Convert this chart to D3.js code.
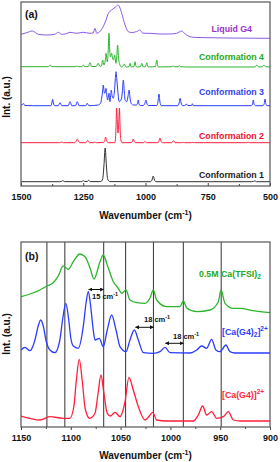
<!DOCTYPE html>
<html>
<head>
<meta charset="utf-8">
<script src="https://cdn.jsdelivr.net/npm/d3@7"></script>
<style>
  body { margin: 0; background: #fff; }
  text { font-family: "Liberation Sans", Arial, sans-serif; font-weight: bold; }
</style>
</head>
<body>
<svg id="chart" width="280" height="462"></svg>
<script>
// ---- panel (a) data: [wavenumber, intensity above own baseline] ----
var ticksA = [1500, 1250, 1000, 750, 500];
var minorA = [1375, 1125, 875, 625];

var conf1 = [[1500,0.3],[1345,0.3],[1338,0.5],[1332,1.4],[1326,0.4],[1262,0.3],[1256,0.5],[1250,1.4],[1244,0.5],
  [1234,0.5],[1228,1.8],[1222,0.4],[1180,0.4],[1172,3],[1167,16],[1162,34],[1157,16],[1152,3],[1144,0.4],
  [980,0.3],[974,2],[969,6],[964,2],[958,0.3],[575,0.3],[566,0.6],[560,1.2],[554,0.3],[500,0.3]];

var conf2 = [[1500,0.3],[1345,0.3],[1337,1],[1330,0.3],[1284,0.3],[1278,2],[1274,4],[1270,2],[1264,0.3],
  [1240,0.3],[1232,2.6],[1225,0.3],[1208,0.3],[1203,1],[1198,0.3],[1170,0.5],[1164,2.5],[1160,6],[1156,2.5],
  [1150,0.3],[1124,0.3],[1121,3],[1118.5,15],[1116,35],[1113,20],[1110.5,10],[1107.5,20],[1104.5,35],[1102,15],
  [1099,3],[1094,0.3],[1058,0.3],[1053,1.5],[1049,4],[1045,1.5],[1040,0.3],[1008,0.3],[1002,1.6],[996,0.3],
  [950,0.3],[946,2],[942,5],[938,2],[932,0.3],[895,0.3],[888,2.3],[881,0.3],[855,0.3],[849,0.7],[843,0.3],
  [815,0.3],[809,0.7],[803,0.3],[595,0.3],[588,0.8],[581,0.3],[500,0.3]];

var conf3 = [[1500,1],[1494,1.5],[1490,2.7],[1485,0.5],[1455,0.3],[1380,0.3],[1376,3],[1373,6.7],[1370,3],
  [1365,0.3],[1350,0.3],[1343,3.3],[1336,0.3],[1310,0.3],[1303,4.3],[1296,0.3],[1281,0.3],[1274,4.3],[1267,0.3],
  [1240,0.3],[1234,2.7],[1228,0.3],[1190,1],[1180,3],[1176,8],[1172.5,14],[1169.5,21],[1166,14],[1163,12.7],
  [1160.5,16],[1158.6,17.7],[1155,10],[1152,6],[1149,10],[1146.6,12.7],[1144.5,7],[1142.6,4.3],[1140,10],
  [1137.5,16],[1134,10],[1129.5,7.7],[1125,14],[1121.5,26],[1118.5,34.3],[1115,26],[1111.6,16],[1108,7],
  [1105,4.3],[1098.4,6],[1093,14],[1089,26],[1085,14],[1082,6],[1075.5,4.3],[1070,10],[1066,16],[1062,8],
  [1058,2.7],[1049,1],[1036,1],[1032,3],[1029,6],[1026,2],[1021,0.5],[1008,0.5],[1003,2.5],[998,6],[994,2],
  [988,0.5],[955,0.5],[950,4],[946,12],[942,4],[937,0.3],[870,0.3],[865,3],[861,7.7],[857,3],[850,0.3],
  [838,1],[835,2],[830,0.5],[815,0.5],[812,2.3],[808,0.3],[575,0.3],[570,2],[567,6],[564,2],[558,0.3],
  [528,0.3],[523,2.5],[520,7],[517,2.5],[512,0.3],[500,0.3]];

var conf4 = [[1500,0.3],[1390,0.3],[1383,2],[1376,0.3],[1282,0.3],[1276,1],[1270,0.3],[1256,0.3],[1250,2],
  [1244,0.3],[1230,0.5],[1223,4.3],[1216,0.5],[1198,0.5],[1190,3.7],[1183,0.5],[1177,1],[1172,7],[1167,2],
  [1162,6],[1158.6,13.7],[1155,7],[1153,5],[1150,15],[1146.6,33.7],[1143.5,16],[1141,10],[1138.5,12],
  [1136,13.7],[1132.5,9],[1129,7],[1126.5,9],[1124,12],[1121,7],[1118.5,3.7],[1115.5,10],[1112,22],
  [1108.5,10],[1105,3.7],[1096,0],[1090,1],[1085,3],[1080,0.5],[1075,0],[1066,0.5],[1062,3.7],[1058,0.3],
  [1055,0],[1046,0.5],[1042,5.3],[1038,0.5],[1033,0],[1020,0.5],[1015,3.7],[1010,0.3],[1006,0],[1000,0.5],
  [995,4.3],[990,0.3],[985,0],[960,0.5],[955,7],[950,0.5],[946,0],[893,0.3],[888,1],[883,0.3],[869,0.3],
  [864,1.3],[859,0.3],[835,0],[560,0],[553,2],[547,0.3],[540,0],[530,0.3],[524,2],[518,0.3],[500,0]];

var liquidG4 = [[1501,3.7],[1477,5.3],[1455,7],[1430,3.7],[1397,3],[1364,3.7],[1350,5.7],[1337,3.7],
  [1320,4.2],[1303,5.7],[1276,4.7],[1250,5.7],[1223,4.7],[1210,5],[1203,9.7],[1196,4.7],[1185,6],
  [1170,11.3],[1160,17],[1149,24.7],[1136,28],[1118.5,31.3],[1110,33],[1104,31],[1095.6,24.7],[1082,13],
  [1069,6.3],[1055,5.5],[1035,6.5],[1022,8],[1012,5],[1002,4.7],[982,4.7],[942,4],[902,4],[875,4.7],
  [865,6],[854.6,7],[845,5],[835,3],[808,0.7],[754,0.3],[674,0],[500,-0.3]];

var namesA = ["Conformation 1", "Conformation 2", "Conformation 3", "Conformation 4", "Liquid G4"];
var offsetsA = [4, 43, 80, 119, 148];

// ---- panel (b) data ----
var ticksB = [1150, 1100, 1050, 1000, 950, 900];
var minorB = [1125, 1075, 1025, 975, 925];
var refLines = [1124, 1106, 1067, 1045, 1017, 987, 949];

var caG4 = [[1150,5],[1141,2.7],[1131,1],[1121,4.3],[1107.5,2.7],[1101,2.7],[1097,14],[1094.5,40],[1091.5,61.7],
  [1088.5,40],[1085.5,12],[1081,2.7],[1075.7,7.7],[1072.6,28],[1069.7,46],[1066.8,28],[1063.4,7.7],[1060,5],
  [1055.6,8.7],[1050.6,4.3],[1045.8,18],[1041.6,43.7],[1037.3,31],[1032.2,14.3],[1025.5,1],[1022.2,3.7],
  [1017.8,8.7],[1013.8,1],[1003.7,0],[977,0],[972,6],[967.6,15],[963.6,6],[958.6,9.3],[953.5,2.7],[946.9,4.3],
  [941.9,9.3],[936.8,1],[930,0],[900,0]];

var caG42 = [[1150,3],[1146,5.7],[1141,2.3],[1136,13],[1133,26],[1130.2,33],[1127.4,26],[1125,13],[1121,3],
  [1116,0.3],[1111,13],[1108,35],[1105,49.7],[1102.3,35],[1100,15],[1097.5,7],[1092.5,4.7],[1087.5,26.3],
  [1084.7,50],[1082.4,61.3],[1080.2,48],[1077.7,25],[1075.7,13],[1071.4,14.7],[1067.4,6.3],[1063.4,23],
  [1059,38],[1054.6,23],[1050.6,6.3],[1044.6,1.3],[1040.6,13],[1036.2,23],[1032.2,13],[1027.2,0.3],
  [1017.2,-0.3],[1010.5,1.3],[1005.4,5.7],[1000.4,0.3],[980.3,0],[973.6,3],[968.6,7],[963.6,4.7],
  [958.6,13.7],[954.3,3],[950.2,1.3],[944.2,8],[940.2,1.3],[935.2,0],[900,0]];

var caTFSI = [[1150,20.3],[1131,27],[1124,31],[1117.6,34.3],[1113,40.3],[1107.5,51],[1102.5,47.7],
  [1097.5,55.3],[1091,63],[1085.7,60.3],[1080.7,49],[1076.7,38],[1070.7,55.3],[1067.4,62],[1063.4,52],
  [1057.3,35.3],[1052.3,28.7],[1048.9,23.7],[1044.6,27],[1040.6,17],[1033.8,14.3],[1025.5,13.7],
  [1020.5,19],[1017.2,27],[1013.8,17],[1003.7,10.3],[990.4,10.3],[987,16],[983.6,9],[973.6,5.3],
  [960.2,7],[951.9,15.3],[949.2,27],[945.2,13.7],[936.8,8.7],[930.1,8.7],[917.1,6.3],[900,4.3]];

var offsetsB = [6, 74, 110];

var svg = d3.select("#chart");

var xA = d3.scaleLinear().domain([1500, 500]).range([21, 270]);
var yA = d3.scaleLinear().domain([0, 184]).range([186, 2]);
var xB = d3.scaleLinear().domain([1150, 900]).range([21, 270]);
var yB = d3.scaleLinear().domain([0, 185]).range([427, 242]);

var defs = svg.append("defs");
defs.append("clipPath").attr("id", "clipA").append("rect")
  .attr("x", 21).attr("y", 2).attr("width", 249).attr("height", 184);
defs.append("clipPath").attr("id", "clipB").append("rect")
  .attr("x", 21).attr("y", 242).attr("width", 249).attr("height", 185);
defs.append("marker").attr("id", "arr").attr("viewBox", "0 0 10 10")
  .attr("refX", 9).attr("refY", 5).attr("markerWidth", 4).attr("markerHeight", 4)
  .attr("orient", "auto-start-reverse")
  .append("path").attr("d", "M0,0L10,5L0,10z").attr("fill", "#111");

function drawTrace(g, data, x, y, off, color, w) {
  var line = d3.line()
    .x(function(d) { return x(d[0]); })
    .y(function(d) { return y(d[1] + off); })
    .curve(d3.curveMonotoneX);
  g.append("path").attr("d", line(data))
    .attr("fill", "none").attr("stroke", color).attr("stroke-width", w);
}

// ===== panel (a) =====
var gA = svg.append("g");
var tracesA = [conf1, conf2, conf3, conf4, liquidG4];
var lineColA = ["#333333", "#ff1f3d", "#2b3cff", "#2db52d", "#8a5ae6"];
var textColA = ["#222222", "#ee1133", "#3344ee", "#22aa22", "#9933cc"];
var labelXA = [264, 264, 264, 264, 252];
var labelYA = [177.5, 138.5, 95, 60, 32];

var plotA = gA.append("g").attr("clip-path", "url(#clipA)");
tracesA.forEach(function(t, i) {
  drawTrace(plotA, t, xA, yA, offsetsA[i], lineColA[i], 1);
});

var axA = gA.append("g").attr("transform", "translate(0,186)")
  .call(d3.axisBottom(xA).tickValues(ticksA).tickSize(-3).tickPadding(8).tickFormat(d3.format("d")));
axA.append("g").call(d3.axisBottom(xA).tickValues(minorA).tickSize(-2).tickFormat(""));
axA.selectAll(".domain").remove();
axA.selectAll("line").attr("stroke", "#444");
axA.selectAll("text").attr("font-size", 9).attr("font-family", null).attr("fill", "#111");

gA.append("rect").attr("x", 21).attr("y", 2).attr("width", 249).attr("height", 184)
  .attr("fill", "none").attr("stroke", "#555").attr("stroke-width", 1.2);

namesA.forEach(function(n, i) {
  gA.append("text").attr("x", labelXA[i]).attr("y", labelYA[i])
    .attr("text-anchor", "end").attr("font-size", 8.8).attr("fill", textColA[i]).text(n);
});
gA.append("text").attr("x", 25).attr("y", 18).attr("font-size", 10.5).attr("fill", "#111").text("(a)");

// ===== panel (b) =====
var gB = svg.append("g");
var tracesB = [caG4, caG42, caTFSI];
var lineColB = ["#ff1f3d", "#2b3cff", "#2db52d"];

gB.selectAll(".ref").data(refLines).enter().append("line")
  .attr("x1", function(d) { return xB(d); }).attr("x2", function(d) { return xB(d); })
  .attr("y1", 242).attr("y2", 427).attr("stroke", "#444").attr("stroke-width", 1.1);

var plotB = gB.append("g").attr("clip-path", "url(#clipB)");
tracesB.forEach(function(t, i) {
  drawTrace(plotB, t, xB, yB, offsetsB[i], lineColB[i], 1.3);
});

var axB = gB.append("g").attr("transform", "translate(0,427)")
  .call(d3.axisBottom(xB).tickValues(ticksB).tickSize(3).tickPadding(5).tickFormat(d3.format("d")));
axB.append("g").call(d3.axisBottom(xB).tickValues(minorB).tickSize(2).tickFormat(""));
axB.selectAll(".domain").remove();
axB.selectAll("line").attr("stroke", "#444");
axB.selectAll("text").attr("font-size", 9).attr("font-family", null).attr("fill", "#111");

gB.append("rect").attr("x", 21).attr("y", 242).attr("width", 249).attr("height", 185)
  .attr("fill", "none").attr("stroke", "#555").attr("stroke-width", 1.2);

gB.append("text").attr("x", 25).attr("y", 260).attr("font-size", 10.5).attr("fill", "#111").text("(b)");

// labels with sub/superscripts
var tTFSI = gB.append("text").attr("x", 199).attr("y", 276.5).attr("font-size", 8.8).attr("fill", "#22aa22");
tTFSI.append("tspan").text("0.5M Ca(TFSI)");
tTFSI.append("tspan").attr("dy", 2.5).attr("font-size", 6.5).text("2");

var tG42 = gB.append("text").attr("x", 222).attr("y", 334.5).attr("font-size", 8.8).attr("fill", "#2b3cff");
tG42.append("tspan").text("[Ca(G4)");
tG42.append("tspan").attr("dy", 2.5).attr("font-size", 6.5).text("2");
tG42.append("tspan").attr("dy", -2.5).text("]");
tG42.append("tspan").attr("dy", -4).attr("font-size", 6.5).text("2+");

var tG4 = gB.append("text").attr("x", 222).attr("y", 398).attr("font-size", 8.8).attr("fill", "#ff1f3d");
tG4.append("tspan").text("[Ca(G4)]");
tG4.append("tspan").attr("dy", -4).attr("font-size", 6.5).text("2+");

// shift arrows
var shifts = [[1082, 1067, 289.5, "15", 92, 299], [1035, 1017, 327.3, "18", 144, 322], [1005, 987, 343.3, "18", 173, 338.5]];
shifts.forEach(function(s) {
  gB.append("line").attr("x1", xB(s[0])).attr("x2", xB(s[1])).attr("y1", s[2]).attr("y2", s[2])
    .attr("stroke", "#111").attr("stroke-width", 1)
    .attr("marker-start", "url(#arr)").attr("marker-end", "url(#arr)");
  var t = gB.append("text").attr("x", s[4]).attr("y", s[5]).attr("font-size", 7.5).attr("fill", "#111");
  t.append("tspan").text(s[3] + " cm");
  t.append("tspan").attr("dy", -3).attr("font-size", 5.5).text("-1");
});

// axis titles
function xTitle(y) {
  var t = svg.append("text").attr("x", 145.5).attr("y", y).attr("text-anchor", "middle")
    .attr("font-size", 10).attr("fill", "#111");
  t.append("tspan").text("Wavenumber (cm");
  t.append("tspan").attr("dy", -4).attr("font-size", 7).text("-1");
  t.append("tspan").attr("dy", 4).text(")");
}
xTitle(219);
xTitle(459);

function yTitle(cy) {
  svg.append("text").attr("transform", "translate(10," + cy + ") rotate(-90)")
    .attr("text-anchor", "middle").attr("font-size", 10).attr("fill", "#111").text("Int. (a.u.)");
}
yTitle(97);
yTitle(334);
</script>
</body>
</html>
